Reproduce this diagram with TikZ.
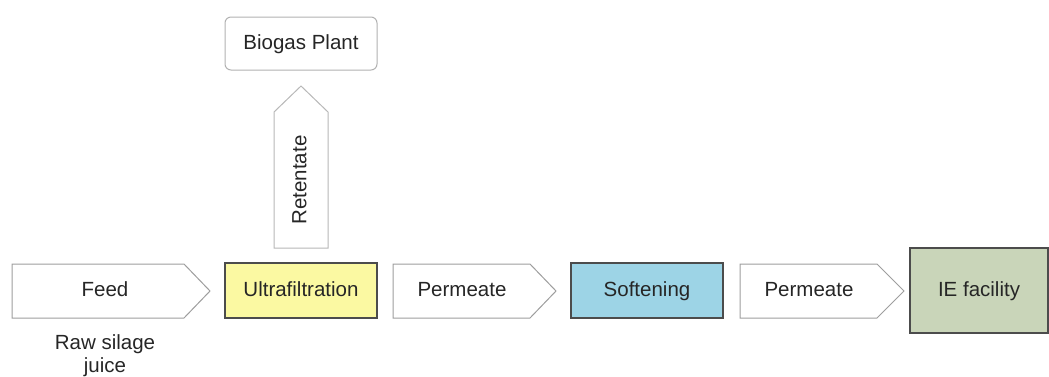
\documentclass[tikz,border=0pt]{standalone}
\usepackage{fontspec}
\setmainfont{Liberation Sans}
\begin{document}
\begin{tikzpicture}[x=1pt,y=-1pt,
  lbl/.style={font=\fontsize{20.5}{23}\selectfont, text=black!85, inner sep=0pt, text height=14.8pt, text depth=4.3pt},
  arrowbody/.style={draw=black!38, fill=white, line width=1pt, line join=miter},
  procbox/.style={draw=black!70, line width=1.3pt}]
\useasboundingbox (0,0) rectangle (1049,376);
\definecolor{uf}{HTML}{FBF9A2}
\definecolor{soft}{HTML}{9DD4E6}
\definecolor{ie}{HTML}{C9D5B9}
% Feed arrow
\draw[arrowbody] (12,264) -- (184,264) -- (210,291) -- (184,318) -- (12,318) -- cycle;
\node[lbl] (feed) at (105,291) {Feed};
\node[font=\fontsize{20.5}{23}\selectfont, text=black!85, inner sep=0pt, align=center] (raw) at (105,356) {Raw silage\\juice};
% Ultrafiltration
\draw[procbox, fill=uf] (225,263) rectangle (377,318);
\node[lbl] (uf) at (301,291) {Ultrafiltration};
% Permeate 1
\draw[arrowbody] (393,264) -- (530,264) -- (556,291) -- (530,318) -- (393,318) -- cycle;
\node[lbl] (perm1) at (462,291) {Permeate};
% Softening
\draw[procbox, fill=soft] (571,263) rectangle (723,318);
\node[lbl] (soft) at (647,291) {Softening};
% Permeate 2
\draw[arrowbody] (740,264) -- (877,264) -- (904,291) -- (877,318) -- (740,318) -- cycle;
\node[lbl] (perm2) at (809,291) {Permeate};
% IE facility
\draw[procbox, fill=ie] (910,248) rectangle (1048,333);
\node[lbl] (ie) at (979,291) {IE facility};
% Retentate arrow
\draw[arrowbody, draw=black!28] (274,248) -- (274,112) -- (301,86) -- (328,112) -- (328,248) -- cycle;
\node[lbl, rotate=90] (ret) at (301,180) {Retentate};
% Biogas plant
\draw[draw=black!30, line width=1pt, rounded corners=6pt, fill=white] (225,17) rectangle (377,70);
\node[lbl] (bio) at (301,44) {Biogas Plant};
\end{tikzpicture}
\end{document}
